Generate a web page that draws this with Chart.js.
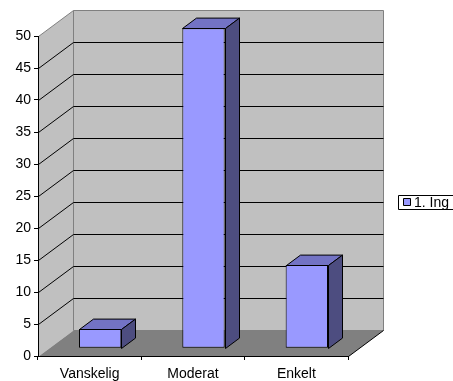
<!DOCTYPE html>
<html>
<head>
<meta charset="utf-8">
<script src="https://cdn.jsdelivr.net/npm/chart.js@4/dist/chart.umd.min.js"></script>
<style>
  html, body { margin: 0; padding: 0; background: #fff; }
  #wrap { width: 453px; height: 381px; position: relative; }
</style>
</head>
<body>
<div id="wrap"><canvas id="chart" width="453" height="381"></canvas></div>
<script>
const categories = ['Vanskelig', 'Moderat', 'Enkelt'];
const seriesLabel = '1. Ing';
const seriesValues = [3, 50, 13];
const yTicks = [0, 5, 10, 15, 20, 25, 30, 35, 40, 45, 50];

// oblique depth of the whole box, and where the bars sit inside it
const DEPTH = { x: 35, y: -26 };
const BAR_START = 0.3;
const BAR_DEPTH = 0.4;

const FRONT = '#9999ff';
const TOP = '#7373c4';
const SIDE = '#4d4d80';
const FONT = '"Liberation Sans", Arial, sans-serif';

function poly(ctx, pts, fill, stroke) {
  ctx.beginPath();
  ctx.moveTo(pts[0][0], pts[0][1]);
  for (let i = 1; i < pts.length; i++) ctx.lineTo(pts[i][0], pts[i][1]);
  ctx.closePath();
  if (fill) { ctx.fillStyle = fill; ctx.fill(); }
  if (stroke) { ctx.strokeStyle = stroke; ctx.lineWidth = 1; ctx.stroke(); }
}

const box3d = {
  id: 'box3d',
  beforeDraw(chart) {
    const { ctx, chartArea: a, scales } = chart;
    const dx = DEPTH.x, dy = DEPTH.y;
    const L = Math.round(a.left) + 0.5, R = Math.round(a.right) + 0.5;
    const T = Math.round(a.top) + 0.5, B = Math.round(a.bottom) + 0.5;
    ctx.save();
    // left wall, back wall, floor
    poly(ctx, [[L, T], [L + dx, T + dy], [L + dx, B + dy], [L, B]], '#c0c0c0');
    poly(ctx, [[L + dx, T + dy], [R + dx, T + dy], [R + dx, B + dy], [L + dx, B + dy]], '#c0c0c0', '#808080');
    poly(ctx, [[L, B], [R, B], [R + dx, B + dy], [L + dx, B + dy]], '#808080');
    ctx.strokeStyle = '#808080';
    ctx.beginPath();
    ctx.moveTo(L, T); ctx.lineTo(L + dx, T + dy);
    ctx.stroke();
    ctx.strokeStyle = '#000';
    ctx.beginPath();
    ctx.moveTo(R, B); ctx.lineTo(R + dx, B + dy);
    ctx.stroke();
    // gridlines run across the side wall and along the back wall
    ctx.strokeStyle = '#000';
    ctx.lineWidth = 1;
    yTicks.forEach(v => {
      if (v === 0 || v === yTicks[yTicks.length - 1]) return;
      const y = Math.round(scales.y.getPixelForValue(v)) + 0.5;
      ctx.beginPath();
      ctx.moveTo(L, y);
      ctx.lineTo(L + dx, y + dy);
      ctx.lineTo(R + dx, y + dy);
      ctx.stroke();
    });
    ctx.restore();
  },
  beforeDatasetDraw(chart) {
    chart.ctx.save();
    chart.ctx.translate(DEPTH.x * BAR_START, DEPTH.y * BAR_START);
  },
  afterDatasetDraw(chart) {
    chart.ctx.restore();
  },
  afterDatasetsDraw(chart) {
    const ctx = chart.ctx;
    const ox = DEPTH.x * BAR_START, oy = DEPTH.y * BAR_START;
    const dx = DEPTH.x * BAR_DEPTH, dy = DEPTH.y * BAR_DEPTH;
    ctx.save();
    chart.getDatasetMeta(0).data.forEach(bar => {
      const p = bar.getProps(['x', 'y', 'base', 'width'], true);
      const l = Math.round(p.x - p.width / 2 + ox) + 0.5;
      const r = Math.round(p.x + p.width / 2 + ox) + 0.5;
      const t = Math.round(p.y + oy) + 0.5;
      const b = Math.round(p.base + oy) + 0.5;
      poly(ctx, [[l, t], [r, t], [r + dx, t + dy], [l + dx, t + dy]], TOP, '#000');
      poly(ctx, [[r, t], [r + dx, t + dy], [r + dx, b + dy], [r, b]], SIDE, '#000');
    });
    ctx.restore();
  },
  afterDraw(chart) {
    // legend box, cut off by the right edge
    const ctx = chart.ctx;
    ctx.save();
    poly(ctx, [[398.5, 195.5], [460, 195.5], [460, 209.5], [398.5, 209.5]], '#fff', '#000');
    poly(ctx, [[403.5, 198.5], [410.5, 198.5], [410.5, 205.5], [403.5, 205.5]], FRONT, '#000');
    ctx.fillStyle = '#000';
    ctx.font = '14px ' + FONT;
    ctx.textBaseline = 'middle';
    ctx.fillText(chart.data.datasets[0].label, 414, 203);
    ctx.restore();
  }
};

new Chart(document.getElementById('chart'), {
  type: 'bar',
  data: {
    labels: categories,
    datasets: [{
      label: seriesLabel,
      data: seriesValues,
      backgroundColor: FRONT,
      borderColor: '#000',
      borderWidth: 1,
      borderSkipped: false,
      categoryPercentage: 1,
      barPercentage: 0.41,
      clip: false
    }]
  },
  options: {
    responsive: false,
    animation: false,
    events: [],
    layout: { padding: { top: 36, right: 105, left: 0, bottom: 0 } },
    plugins: { legend: { display: false }, tooltip: { enabled: false } },
    scales: {
      y: {
        min: 0,
        max: 50,
        afterFit: s => { s.width = 38; },
        afterBuildTicks: s => { s.ticks = yTicks.map(v => ({ value: v })); },
        ticks: { color: '#000', padding: 3, font: { family: FONT, size: 14 } },
        grid: { drawOnChartArea: false, drawTicks: true, tickLength: 4, color: '#000' },
        border: { display: true, color: '#000' }
      },
      x: {
        afterFit: s => { s.height = 25; },
        ticks: { color: '#000', padding: 6, maxRotation: 0, font: { family: FONT, size: 14 } },
        grid: { drawOnChartArea: false, drawTicks: true, tickLength: 4, color: '#000', offset: true },
        border: { display: true, color: '#000' }
      }
    }
  },
  plugins: [box3d]
});
</script>
</body>
</html>
